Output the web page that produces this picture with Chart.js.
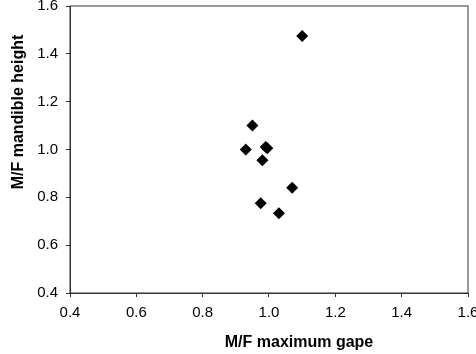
<!DOCTYPE html>
<html>
<head>
<meta charset="utf-8">
<script src="https://cdn.jsdelivr.net/npm/chart.js@4/dist/chart.umd.min.js"></script>
<style>
  html, body { margin: 0; padding: 0; background: #fff; }
  #wrap { width: 476px; height: 354px; position: relative; }
</style>
</head>
<body>
<div id="wrap"><canvas id="chart"></canvas></div>
<script>
// M/F ratios
const gapeRatio = [1.10, 0.95, 0.93, 0.99, 0.995, 0.98, 1.07, 0.975, 1.03];
const mandibleRatio = [1.475, 1.10, 1.00, 1.01, 1.005, 0.955, 0.84, 0.775, 0.733];
const xTitle = "M/F maximum gape";
const yTitle = "M/F mandible height";
const axisMin = 0.4;
const axisMax = 1.6;
const axisStep = 0.2;

const points = gapeRatio.map((g, i) => ({ x: g, y: mandibleRatio[i] }));

const tickFont = { family: '"Liberation Sans", Arial, sans-serif', size: 15 };

// box around the plot and the two axis titles
const frame = {
  id: "frame",
  afterDraw(chart) {
    const { ctx, chartArea: a } = chart;
    ctx.save();
    ctx.strokeStyle = "#333";
    ctx.lineWidth = 1;
    ctx.strokeRect(a.left, a.top, a.right - a.left, a.bottom - a.top);
    ctx.fillStyle = "#000";
    ctx.font = 'bold 16px "Liberation Sans", Arial, sans-serif';
    ctx.textAlign = "center";
    ctx.textBaseline = "middle";
    ctx.fillText(xTitle, 299, 343);
    ctx.translate(19, 112);
    ctx.rotate(-Math.PI / 2);
    ctx.fillText(yTitle, 0, 0);
    ctx.restore();
  }
};

// keep the plot box where the reference has it, labels may overhang
function noPad(scale) {
  scale.paddingLeft = 0;
  scale.paddingRight = 0;
  scale.paddingTop = 0;
  scale.paddingBottom = 0;
}

new Chart(document.getElementById("chart"), {
  type: "scatter",
  data: {
    datasets: [{
      data: points,
      pointStyle: "rectRot",
      pointRadius: 6,
      pointHoverRadius: 6,
      backgroundColor: "#000",
      borderColor: "#000",
      borderWidth: 0
    }]
  },
  options: {
    responsive: true,
    maintainAspectRatio: false,
    animation: false,
    layout: { padding: { top: 5, right: 8, left: 0, bottom: 0 } },
    plugins: { legend: { display: false }, tooltip: { enabled: false } },
    scales: {
      x: {
        type: "linear",
        min: axisMin,
        max: axisMax,
        afterFit(scale) { scale.height = 61; noPad(scale); },
        border: { color: "#333", width: 1 },
        grid: { drawOnChartArea: false, tickLength: 4, color: "#333" },
        ticks: {
          stepSize: axisStep,
          padding: 7,
          color: "#000",
          font: tickFont,
          callback: v => v.toFixed(1)
        }
      },
      y: {
        type: "linear",
        min: axisMin,
        max: axisMax,
        afterFit(scale) { scale.width = 70; noPad(scale); },
        border: { color: "#333", width: 1 },
        grid: { drawOnChartArea: false, tickLength: 4, color: "#333" },
        ticks: {
          stepSize: axisStep,
          padding: 8,
          color: "#000",
          font: tickFont,
          callback: v => v.toFixed(1)
        }
      }
    }
  },
  plugins: [frame]
});
</script>
</body>
</html>
